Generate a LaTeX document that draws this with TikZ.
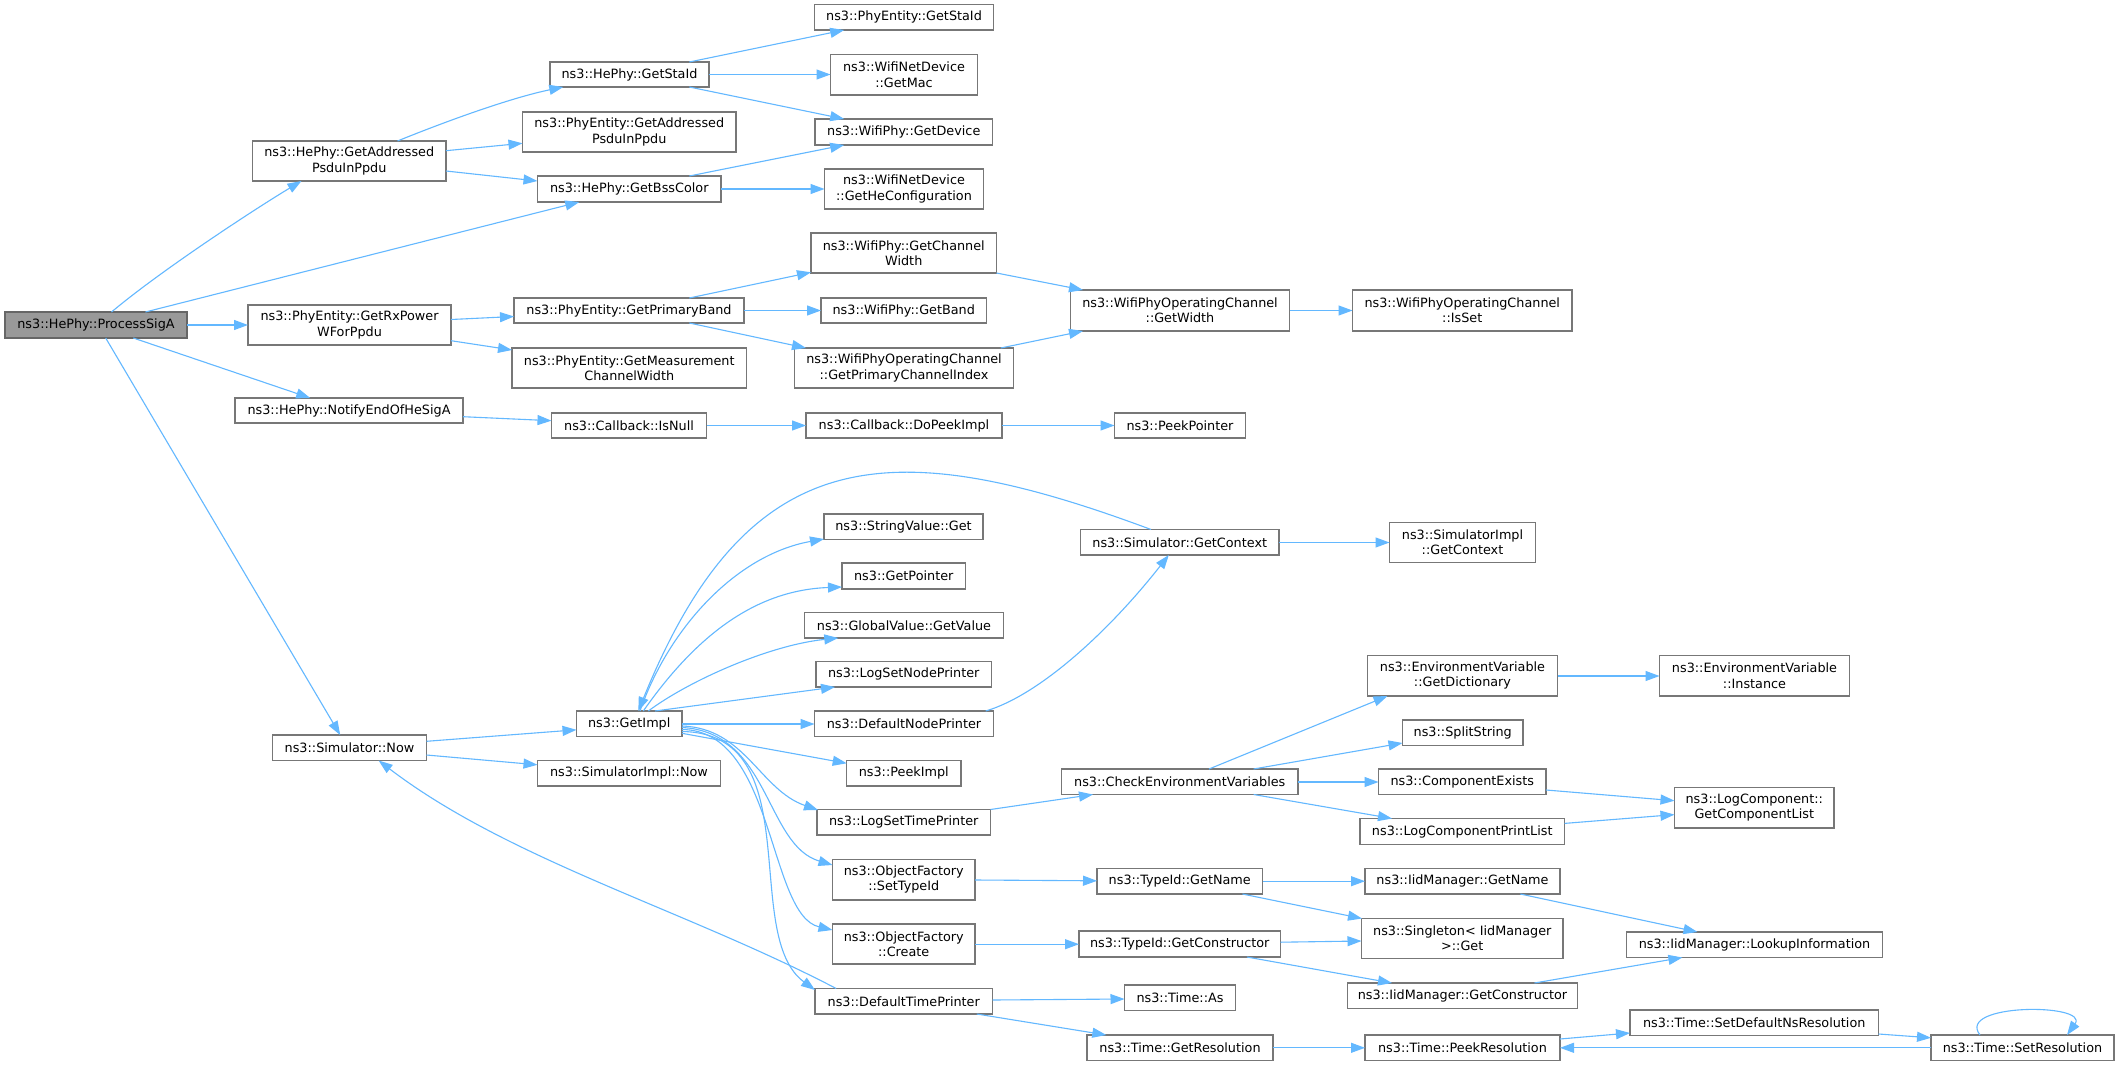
\documentclass[tikz,border=0pt]{standalone}
\usepackage{fontspec}
\setmainfont{DejaVu Sans}
\usetikzlibrary{arrows.meta,calc}
\definecolor{edgeblue}{HTML}{63B8FF}
\definecolor{boxline}{HTML}{777777}
\definecolor{rootfill}{HTML}{999999}
\definecolor{rootline}{HTML}{666666}
\tikzset{
  nbox/.style={draw=boxline, line width=1.3pt, fill=white, rectangle, inner sep=1pt, outer sep=0pt,
    align=center, font=\fontsize{12.8}{15.1}\selectfont, text=black},
  rootbox/.style={fill=rootfill, draw=rootline},
  edge/.style={draw=edgeblue, line width=1.1pt, -{Triangle[length=14pt,width=10pt]}}
}
% node: optional style, name, x1, x2, y1, y2, text  (pixel coordinates, y downwards)
\newcommand{\nd}[7][]{%
  \expandafter\gdef\csname nx#2\endcsname{#3}%
  \expandafter\gdef\csname ny#2\endcsname{#5}%
  \node[nbox,#1,minimum width={(#4-#3)*1pt},minimum height={(#6-#5)*1pt}] (#2) at ({(#3+#4)/2},{(#5+#6)/2}) {#7};}
% point on/at node #1 given by absolute pixel position (#2,#3)
\newcommand{\ept}[3]{($(#1.north west)+({#2-\csname nx#1\endcsname},{#3-\csname ny#1\endcsname})$)}
\begin{document}
\begin{tikzpicture}[x=1pt,y=-1pt]
\fill[white] (0,0) rectangle (2120,1065);
\useasboundingbox (0,0) rectangle (2120,1065);

\nd[rootbox]{ps}{5}{187}{312}{338}{ns3::HePhy::ProcessSigA}
\nd{hega}{252.5}{446}{141}{181}{ns3::HePhy::GetAddressed\\PsduInPpdu}
\nd{hesta}{550}{709}{62}{87}{ns3::HePhy::GetStaId}
\nd{pega}{522.5}{736}{112}{152}{ns3::PhyEntity::GetAddressed\\PsduInPpdu}
\nd{bss}{537.5}{721}{176}{202}{ns3::HePhy::GetBssColor}
\nd{rx}{248}{451}{305}{345}{ns3::PhyEntity::GetRxPower\\WForPpdu}
\nd{pband}{514}{744}{298}{323}{ns3::PhyEntity::GetPrimaryBand}
\nd{meas}{512}{746.5}{348}{388}{ns3::PhyEntity::GetMeasurement\\ChannelWidth}
\nd{notify}{235}{463}{398}{423}{ns3::HePhy::NotifyEndOfHeSigA}
\nd{isnull}{551.5}{706.5}{413}{438}{ns3::Callback::IsNull}
\nd{pesta}{814.5}{993.5}{4.5}{30}{ns3::PhyEntity::GetStaId}
\nd{mac}{830.5}{977.5}{54.5}{95}{ns3::WifiNetDevice\\::GetMac}
\nd{dev}{815}{992.5}{119}{145}{ns3::WifiPhy::GetDevice}
\nd{hecfg}{824.5}{983.5}{169}{209}{ns3::WifiNetDevice\\::GetHeConfiguration}
\nd{chw}{811}{996.5}{233}{273}{ns3::WifiPhy::GetChannel\\Width}
\nd{band}{821}{986.5}{298}{323}{ns3::WifiPhy::GetBand}
\nd{pci}{794.5}{1013.5}{348}{388}{ns3::WifiPhyOperatingChannel\\::GetPrimaryChannelIndex}
\nd{ocw}{1070.5}{1289.5}{290}{331}{ns3::WifiPhyOperatingChannel\\::GetWidth}
\nd{isset}{1352.5}{1572}{290}{331}{ns3::WifiPhyOperatingChannel\\::IsSet}
\nd{dopeek}{806}{1002}{413}{438}{ns3::Callback::DoPeekImpl}
\nd{peekptr}{1114.5}{1245.5}{413}{438}{ns3::PeekPointer}
\nd{now}{272.5}{426.5}{735}{760.5}{ns3::Simulator::Now}
\nd{getimpl}{576.5}{682}{711}{736.5}{ns3::GetImpl}
\nd{simnow}{537.5}{720.5}{760.5}{786}{ns3::SimulatorImpl::Now}
\nd{strget}{824}{983}{514}{539.5}{ns3::StringValue::Get}
\nd{getptr}{842}{965.5}{563}{589}{ns3::GetPointer}
\nd{gv}{804.5}{1003.5}{612.5}{638}{ns3::GlobalValue::GetValue}
\nd{lsnp}{816}{991.5}{661.5}{687}{ns3::LogSetNodePrinter}
\nd{dnp}{814.5}{993.5}{711}{736.5}{ns3::DefaultNodePrinter}
\nd{peekimpl}{846.5}{961}{760.5}{786}{ns3::PeekImpl}
\nd{lstp}{817}{990.5}{809.5}{835}{ns3::LogSetTimePrinter}
\nd{ofst}{832.5}{975}{859.5}{900}{ns3::ObjectFactory\\::SetTypeId}
\nd{ofc}{832.5}{975}{924}{964}{ns3::ObjectFactory\\::Create}
\nd{dtp}{815}{992.5}{988.5}{1014}{ns3::DefaultTimePrinter}
\nd{simctx}{1080.5}{1279}{529.5}{555}{ns3::Simulator::GetContext}
\nd{cev}{1061.5}{1298}{769}{794.5}{ns3::CheckEnvironmentVariables}
\nd{tidname}{1097}{1262.5}{868.5}{894}{ns3::TypeId::GetName}
\nd{tidctor}{1079}{1280.5}{931}{957}{ns3::TypeId::GetConstructor}
\nd{timeas}{1124.5}{1235.5}{985}{1010.5}{ns3::Time::As}
\nd{getres}{1087}{1273}{1035}{1060.5}{ns3::Time::GetResolution}
\nd{simictx}{1389.5}{1535.5}{522.5}{562.5}{ns3::SimulatorImpl\\::GetContext}
\nd{envdict}{1367.5}{1557.5}{655.5}{696}{ns3::EnvironmentVariable\\::GetDictionary}
\nd{envinst}{1659.5}{1849.5}{655.5}{696}{ns3::EnvironmentVariable\\::Instance}
\nd{split}{1402.5}{1523}{720}{745.5}{ns3::SplitString}
\nd{compex}{1378.5}{1546}{769}{794.5}{ns3::ComponentExists}
\nd{lcpl}{1360}{1564.5}{818.5}{844.5}{ns3::LogComponentPrintList}
\nd{lcgcl}{1674.5}{1834}{787.5}{828}{ns3::LogComponent::\\GetComponentList}
\nd{iidname}{1365}{1560}{868.5}{894}{ns3::IidManager::GetName}
\nd{singleton}{1361.5}{1563}{918.5}{958.5}{ns3::Singleton< IidManager\\>::Get}
\nd{lookup}{1626.5}{1882.5}{932}{957.5}{ns3::IidManager::LookupInformation}
\nd{iidctor}{1347.5}{1577.5}{983}{1008.5}{ns3::IidManager::GetConstructor}
\nd{peekres}{1365}{1560}{1035}{1060.5}{ns3::Time::PeekResolution}
\nd{setdef}{1630}{1878.5}{1010}{1035.5}{ns3::Time::SetDefaultNsResolution}
\nd{setres}{1931}{2114}{1035}{1060.5}{ns3::Time::SetResolution}

% edges
\draw[edge] \ept{ps}{111.5}{312} .. controls (161.5,270) and (256.5,208) .. \ept{hega}{301.5}{181};
\draw[edge] \ept{ps}{145.4}{312} -- \ept{bss}{579.3}{202};
\draw[edge] \ept{ps}{187}{325} -- \ept{rx}{248}{325};
\draw[edge] \ept{ps}{133.3}{338} -- \ept{notify}{310.2}{398};
\draw[edge] \ept{ps}{105.7}{338} -- \ept{now}{340.2}{735};
\draw[edge] \ept{hega}{397.5}{141} .. controls (452.5,118.7) and (513.3,97.3) .. \ept{hesta}{563.3}{87};
\draw[edge] \ept{hega}{446}{150.7} -- \ept{pega}{522.5}{143.3};
\draw[edge] \ept{hega}{446}{171} -- \ept{bss}{537.5}{181};
\draw[edge] \ept{hesta}{689.3}{62} -- \ept{pesta}{844.2}{30};
\draw[edge] \ept{hesta}{709}{74.5} -- \ept{mac}{830.5}{74.5};
\draw[edge] \ept{hesta}{689.3}{87} -- \ept{dev}{844.2}{119};
\draw[edge] \ept{bss}{689.3}{176} -- \ept{dev}{844.2}{145};
\draw[edge] \ept{bss}{721}{189} -- \ept{hecfg}{824.5}{189};
\draw[edge] \ept{rx}{451}{319.5} -- \ept{pband}{514}{316.5};
\draw[edge] \ept{rx}{451}{340.7} -- \ept{meas}{512}{350};
\draw[edge] \ept{pband}{689.3}{298} -- \ept{chw}{811}{272.3};
\draw[edge] \ept{pband}{744}{310.5} -- \ept{band}{821}{310.5};
\draw[edge] \ept{pband}{689.3}{323} -- \ept{pci}{806}{348};
\draw[edge] \ept{chw}{996.5}{273} -- \ept{ocw}{1083}{290};
\draw[edge] \ept{pci}{1000.8}{348} -- \ept{ocw}{1083}{331};
\draw[edge] \ept{ocw}{1289.5}{310.5} -- \ept{isset}{1352.5}{310.5};
\draw[edge] \ept{notify}{463}{416.7} -- \ept{isnull}{551.5}{420.7};
\draw[edge] \ept{isnull}{706.5}{425.5} -- \ept{dopeek}{806}{425.5};
\draw[edge] \ept{dopeek}{1002}{425.5} -- \ept{peekptr}{1114.5}{425.5};
\draw[edge] \ept{now}{426.5}{741.3} -- \ept{getimpl}{576.5}{729.8};
\draw[edge] \ept{now}{426.5}{755} -- \ept{simnow}{537.5}{764.8};
\draw[edge] \ept{getimpl}{640}{711} .. controls (668,630) and (735,555) .. \ept{strget}{824}{539};
\draw[edge] \ept{getimpl}{643.3}{711} .. controls (700,630) and (760,590) .. \ept{getptr}{842}{587};
\draw[edge] \ept{getimpl}{648.3}{711} .. controls (690,680) and (770,645) .. \ept{gv}{838.3}{638};
\draw[edge] \ept{getimpl}{655}{711} -- \ept{lsnp}{835}{687};
\draw[edge] \ept{getimpl}{682}{724} -- \ept{dnp}{814.5}{724};
\draw[edge] \ept{getimpl}{682}{733.3} -- \ept{peekimpl}{846.7}{763.3};
\draw[edge] \ept{getimpl}{682}{726} .. controls (745,728) and (760,790) .. \ept{lstp}{818}{810};
\draw[edge] \ept{getimpl}{682}{727.5} .. controls (770,732) and (765,845) .. \ept{ofst}{832.5}{865};
\draw[edge] \ept{getimpl}{682}{729.5} .. controls (775,730) and (768,915) .. \ept{ofc}{832.5}{930};
\draw[edge] \ept{getimpl}{682}{731.5} .. controls (810,733) and (740,935) .. \ept{dtp}{815}{990};
\draw[edge] \ept{simctx}{1151}{529.5} .. controls (888.5,431.7) and (747.6,441.5) .. \ept{getimpl}{638.3}{711};
\draw[edge] \ept{dnp}{985.7}{711} .. controls (1040,695) and (1110,630) .. \ept{simctx}{1168.8}{555};
\draw[edge] \ept{simctx}{1279}{542.5} -- \ept{simictx}{1389.5}{542.5};
\draw[edge] \ept{lstp}{990.5}{809.5} -- \ept{cev}{1093}{794.5};
\draw[edge] \ept{cev}{1209}{769} -- \ept{envdict}{1387.5}{696};
\draw[edge] \ept{cev}{1253.6}{769} -- \ept{split}{1402.5}{743};
\draw[edge] \ept{cev}{1298}{782} -- \ept{compex}{1378.5}{782};
\draw[edge] \ept{cev}{1253.6}{794.5} -- \ept{lcpl}{1392}{818.5};
\draw[edge] \ept{envdict}{1557.5}{676} -- \ept{envinst}{1659.5}{676};
\draw[edge] \ept{compex}{1546}{790} -- \ept{lcgcl}{1674.5}{800.7};
\draw[edge] \ept{lcpl}{1564.5}{823.4} -- \ept{lcgcl}{1674.5}{814.6};
\draw[edge] \ept{ofst}{975}{880} -- \ept{tidname}{1097}{880.8};
\draw[edge] \ept{tidname}{1262.5}{881.2} -- \ept{iidname}{1365}{881.2};
\draw[edge] \ept{tidname}{1242.4}{894} -- \ept{singleton}{1362}{918.5};
\draw[edge] \ept{iidname}{1520.3}{894} -- \ept{lookup}{1697.5}{932};
\draw[edge] \ept{ofc}{975}{944.2} -- \ept{tidctor}{1079}{944.2};
\draw[edge] \ept{tidctor}{1280.5}{942.2} -- \ept{singleton}{1361.5}{941};
\draw[edge] \ept{tidctor}{1246.9}{957} -- \ept{iidctor}{1392}{983};
\draw[edge] \ept{iidctor}{1534.5}{983} -- \ept{lookup}{1682.4}{957.5};
\draw[edge] \ept{dtp}{992.5}{1000} -- \ept{timeas}{1124.5}{999};
\draw[edge] \ept{dtp}{976.8}{1014} -- \ept{getres}{1106.3}{1035};
\draw[edge] \ept{getres}{1273}{1047.8} -- \ept{peekres}{1365}{1047.8};
\draw[edge] \ept{peekres}{1560}{1039} -- \ept{setdef}{1630}{1033};
\draw[edge] \ept{setdef}{1878.5}{1034} -- \ept{setres}{1931}{1037.8};
\draw[edge] \ept{setres}{1931}{1047.8} -- \ept{peekres}{1560}{1047.8};
\draw[edge] \ept{setres}{1980}{1035} .. controls (1955,1003) and (2090,1003) .. \ept{setres}{2067}{1035};
\draw[edge] \ept{dtp}{836.2}{988.5} .. controls (686,910) and (509,860) .. \ept{now}{378.6}{760.5};
\end{tikzpicture}
\end{document}
